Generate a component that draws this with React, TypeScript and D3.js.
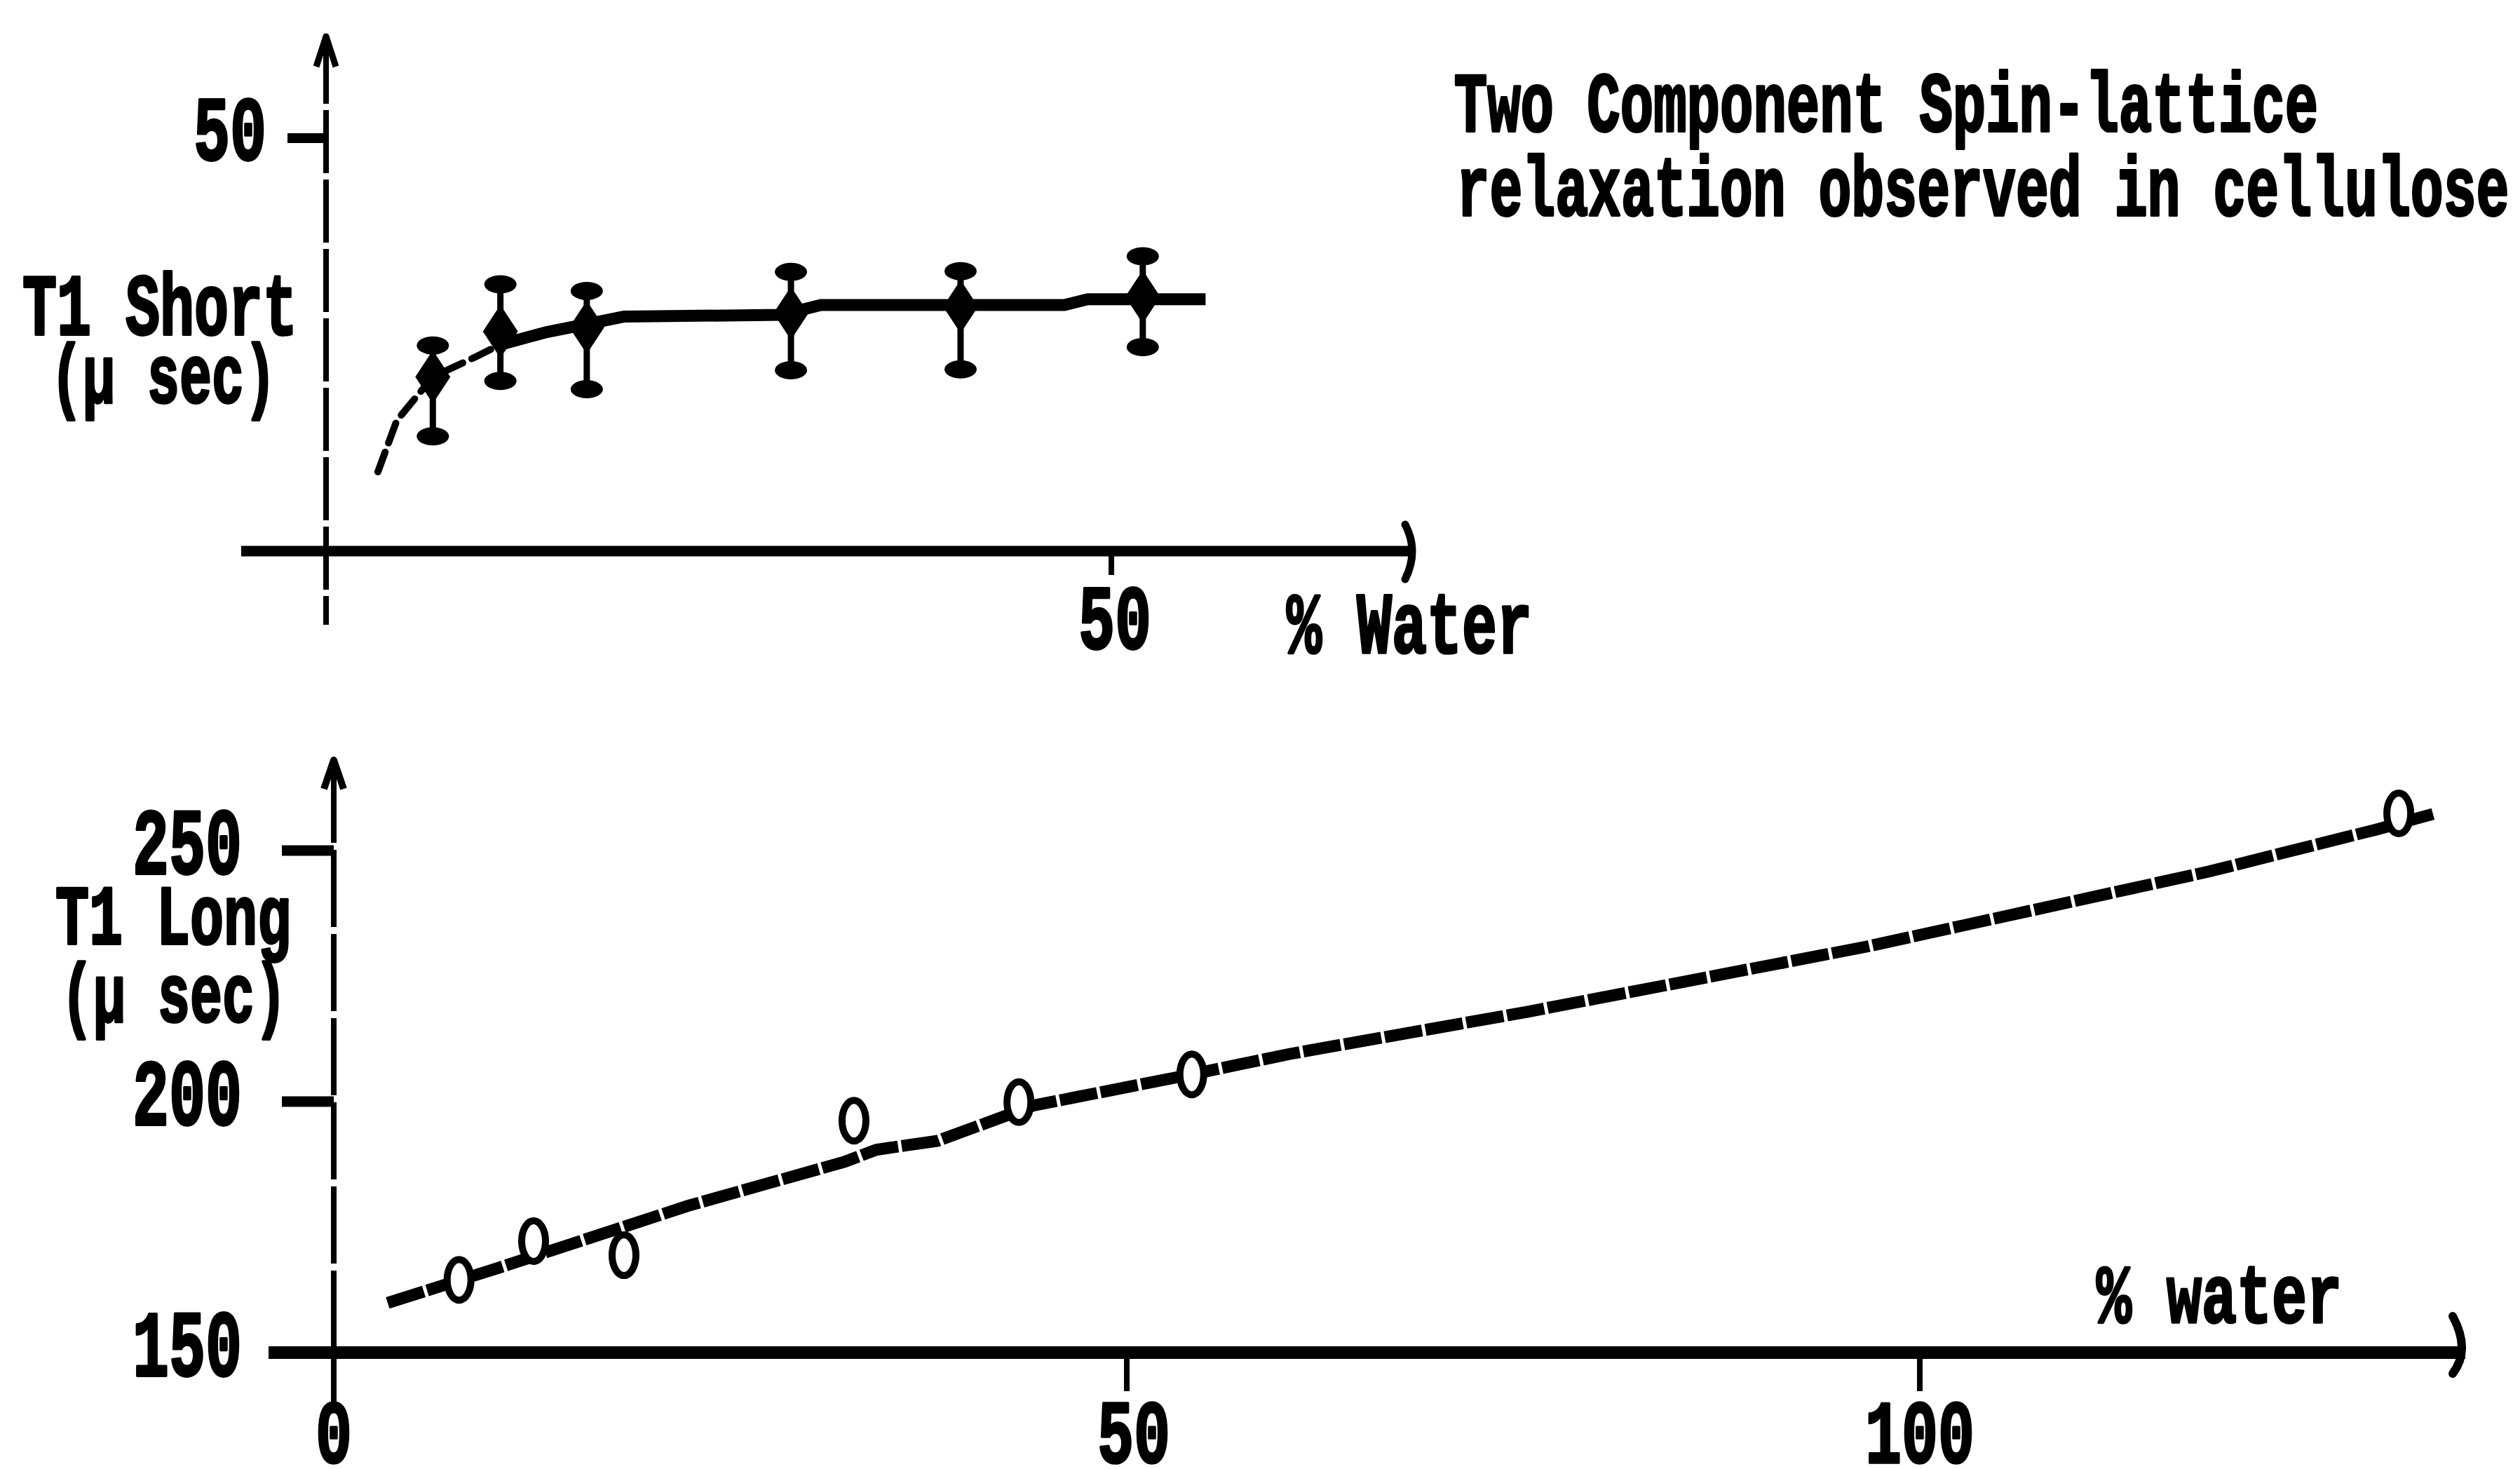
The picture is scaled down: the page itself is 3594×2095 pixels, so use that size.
import React from 'react';
import * as d3 from 'd3';

const W = 3594;
const H = 2095;

// ---- Upper panel: T1 Short (μ sec) vs % Water ----
const shortWater = [6.8, 11.1, 16.6, 29.6, 40.4, 52.0];
const shortT1 = [21.1, 26.6, 27.1, 28.8, 29.6, 30.8];
const shortErrHigh = [24.9, 32.3, 31.5, 33.8, 33.9, 35.7];
const shortErrLow = [13.9, 20.6, 19.6, 21.9, 22.0, 24.7];
// hand-drawn trend curve through the points
const shortFitWater = [3.3, 4.5, 6.8, 9.5, 11.1, 14, 16.9, 19, 29, 31.5, 47, 48.5, 56];
const shortFitT1 = [9.6, 15.8, 21.1, 23.5, 25.0, 26.5, 27.6, 28.4, 28.6, 29.8, 29.8, 30.5, 30.5];
const SHORT_DASH_END = 11.1;
const topXTicks = [50];
const topYTicks = [50];

// ---- Lower panel: T1 Long (μ sec) vs % water ----
const longWater = [7.9, 12.6, 18.3, 32.8, 43.2, 54.1, 130.2];
const longT1 = [164.5, 172.2, 169.4, 196.2, 199.9, 205.4, 257.4];
const longFitWater = [3.4, 10.5, 22.3, 32.2, 34.2, 38.1, 44.1, 53.9, 60.3, 75.3, 96.7, 118.2, 128.8, 132.5];
const longFitT1 = [159.9, 167.0, 179.2, 188.0, 190.4, 192.2, 199.2, 205.3, 209.5, 217.9, 230.9, 245.8, 254.2, 257.4];
const bottomXTicks = [0, 50, 100];
const bottomYTicks = [150, 200, 250];

const titleLines = ['Two Component Spin-lattice', 'relaxation observed in cellulose'];

const FONT = '"Liberation Mono", "DejaVu Sans Mono", monospace';
const ADVANCE = 0.6; // monospace advance (em)
const CAP = 0.66; // cap height (em)

type TxtProps = { x: number; y: number; text: string; pitch: number; cap?: number; anchor?: 'start' | 'middle' | 'end' };
function Txt({ x, y, text, pitch, cap = 82, anchor = 'middle' }: TxtProps) {
  const fs = pitch / ADVANCE;
  const k = cap / (CAP * fs);
  return (
    <text
      transform={`translate(${x},${y}) scale(1,${k.toFixed(3)})`}
      fontFamily={FONT}
      fontWeight="bold"
      fontSize={fs}
      textAnchor={anchor}
      fill="#000"
      stroke="#000"
      strokeWidth={2.5}
      strokeLinejoin="round"
    >
      {text}
    </text>
  );
}

export default function App() {
  const xT = d3.scaleLinear().domain([0, 50]).range([465, 1585]);
  const yT = d3.scaleLinear().domain([0, 50]).range([786, 197]);
  const xB = d3.scaleLinear().domain([0, 100]).range([476, 2738]);
  const yB = d3.scaleLinear().domain([150, 250]).range([1929, 1213]);

  const lineT = d3.line<number[]>().x((d) => xT(d[0])).y((d) => yT(d[1]));
  const lineB = d3.line<number[]>().x((d) => xB(d[0])).y((d) => yB(d[1]));

  const shortFit = shortFitWater.map((w, i) => [w, shortFitT1[i]]);
  const shortLead = shortFit.filter((d) => d[0] <= SHORT_DASH_END);
  const shortRest = shortFit.filter((d) => d[0] >= SHORT_DASH_END);
  const longFit = longFitWater.map((w, i) => [w, longFitT1[i]]);

  const topAxisY = yT(0);
  const topAxisX = xT(0);
  const botAxisY = yB(150);
  const botAxisX = xB(0);

  return (
    <svg
      width={W}
      height={H}
      viewBox={`0 0 ${W} ${H}`}
      style={{ position: 'absolute', left: 0, top: 0, background: '#fff' }}
    >
      <rect x={0} y={0} width={W} height={H} fill="#fff" />

      {/* ================= Upper panel ================= */}
      <line x1={topAxisX} y1={58} x2={topAxisX} y2={891} stroke="#000" strokeWidth={8} strokeDasharray="90 9" />
      <path d={`M${topAxisX - 14},${95} L${topAxisX},${52} L${topAxisX + 14},${95}`} fill="none" stroke="#000" strokeWidth={9} strokeLinejoin="round" />
      <line x1={344} y1={topAxisY} x2={2016} y2={topAxisY} stroke="#000" strokeWidth={15} />
      <path d={`M2004,${topAxisY - 38} Q2024,${topAxisY} 2004,${topAxisY + 40}`} fill="none" stroke="#000" strokeWidth={11} strokeLinecap="round" />
      {topYTicks.map((v) => (
        <g key={`ty${v}`}>
          <line x1={410} y1={yT(v)} x2={topAxisX} y2={yT(v)} stroke="#000" strokeWidth={14} />
          <Txt x={328} y={yT(v) + 31} text={String(v)} pitch={52} cap={86} />
        </g>
      ))}
      {topXTicks.map((v) => (
        <g key={`tx${v}`}>
          <line x1={xT(v)} y1={topAxisY} x2={xT(v)} y2={topAxisY + 34} stroke="#000" strokeWidth={8} />
          <Txt x={xT(v) + 5} y={topAxisY + 139} text={String(v)} pitch={52} cap={86} />
        </g>
      ))}
      <Txt x={228} y={477} text="T1 Short" pitch={49} />
      <Txt x={233} y={574} text="(μ sec)" pitch={46} cap={78} />
      <Txt x={2010} y={931} text="% Water" pitch={50} />

      <path d={lineT(shortLead) || ''} fill="none" stroke="#000" strokeWidth={10} strokeDasharray="30 14" strokeLinecap="round" />
      <path d={lineT(shortRest) || ''} fill="none" stroke="#000" strokeWidth={17} strokeLinejoin="round" />

      {shortWater.map((w, i) => {
        const cx = xT(w);
        const cy = yT(shortT1[i]);
        return (
          <g key={`sp${i}`}>
            <line x1={cx} y1={yT(shortErrHigh[i])} x2={cx} y2={yT(shortErrLow[i])} stroke="#000" strokeWidth={9} />
            <ellipse cx={cx} cy={yT(shortErrHigh[i])} rx={23} ry={13} fill="#000" />
            <ellipse cx={cx} cy={yT(shortErrLow[i])} rx={23} ry={13} fill="#000" />
            <path d={`M${cx},${cy - 38} L${cx + 25},${cy} L${cx},${cy + 38} L${cx - 25},${cy} Z`} fill="#000" />
          </g>
        );
      })}

      <Txt x={2690} y={187} text={titleLines[0]} pitch={47.4} cap={80} />
      <Txt x={2828} y={307} text={titleLines[1]} pitch={46.9} cap={80} />

      {/* ================= Lower panel ================= */}
      <line x1={botAxisX} y1={1092} x2={botAxisX} y2={2008} stroke="#000" strokeWidth={8} strokeDasharray="110 10" />
      <path d={`M${botAxisX - 14},${1125} L${botAxisX},${1084} L${botAxisX + 14},${1125}`} fill="none" stroke="#000" strokeWidth={10} strokeLinejoin="round" />
      <line x1={383} y1={botAxisY} x2={3516} y2={botAxisY} stroke="#000" strokeWidth={18} />
      <path d={`M3498,${botAxisY - 52} Q3524,${botAxisY - 4} 3498,${botAxisY + 30}`} fill="none" stroke="#000" strokeWidth={12} strokeLinecap="round" />

      {bottomYTicks.map((v) => (
        <g key={`by${v}`}>
          {v !== 150 && <line x1={402} y1={yB(v)} x2={botAxisX} y2={yB(v)} stroke="#000" strokeWidth={15} />}
          <Txt x={267} y={yB(v) + 33} text={String(v)} pitch={52} cap={88} />
        </g>
      ))}
      {bottomXTicks.map((v) => (
        <g key={`bx${v}`}>
          {v !== 0 && <line x1={xB(v)} y1={botAxisY} x2={xB(v)} y2={botAxisY + 55} stroke="#000" strokeWidth={8} />}
          <Txt x={xB(v) + (v === 50 ? 10 : 0)} y={botAxisY + 157} text={String(v)} pitch={52} cap={84} />
        </g>
      ))}
      <Txt x={247} y={1346} text="T1 Long" pitch={48} cap={80} />
      <Txt x={248} y={1457} text="(μ sec)" pitch={46} cap={78} />
      <Txt x={3165} y={1886} text="% water" pitch={50} cap={78} />

      <path d={lineB(longFit) || ''} fill="none" stroke="#000" strokeWidth={17} strokeDasharray="54 5" />

      {longWater.map((w, i) => (
        <ellipse key={`lp${i}`} cx={xB(w)} cy={yB(longT1[i])} rx={17} ry={29} fill="#fff" stroke="#000" strokeWidth={10} />
      ))}
    </svg>
  );
}
